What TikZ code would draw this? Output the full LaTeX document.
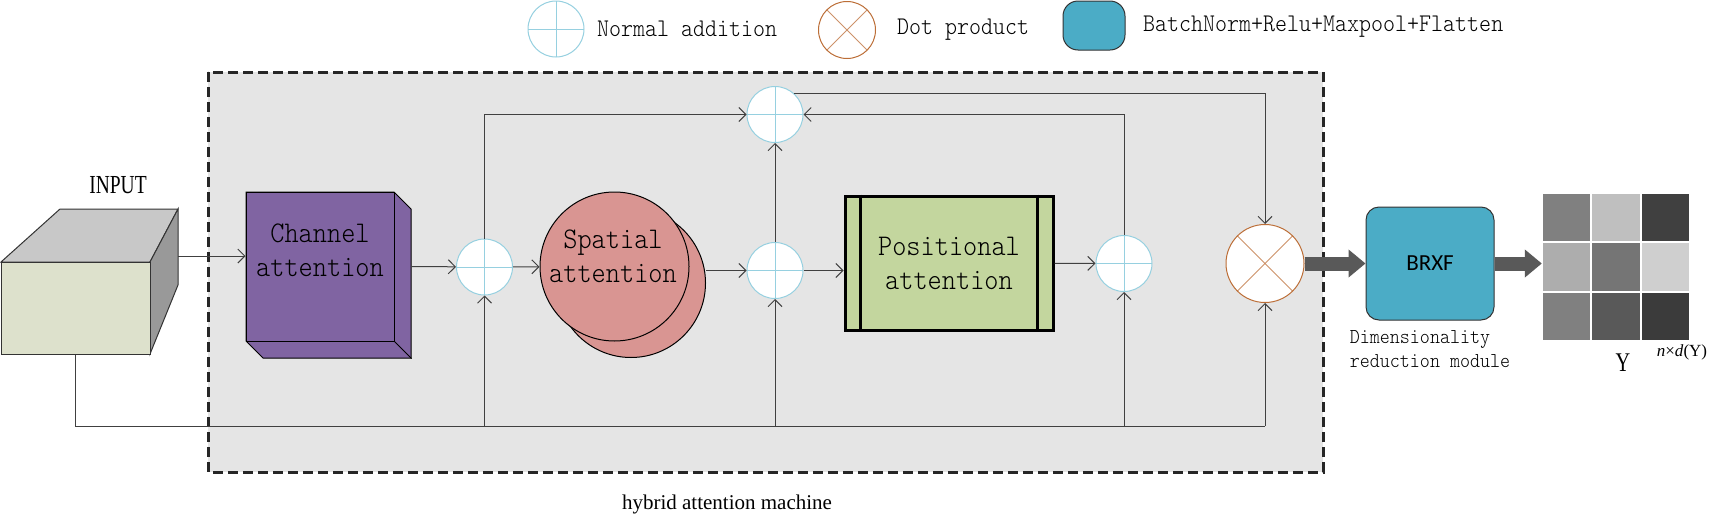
\documentclass[tikz,border=0pt]{standalone}
\usepackage{fontspec}
\usetikzlibrary{positioning,arrows.meta}
\newfontfamily\boxfont[Extension=.otf,FakeStretch=0.9]{lmmonolt10-regular}
\newfontfamily\narrowserif[FakeStretch=0.75]{Liberation Serif}
\newfontfamily\plainserif{Liberation Serif}
\newfontfamily\brxffont{Carlito}
\definecolor{addblue}{RGB}{150,208,224}
\definecolor{dotbrown}{RGB}{188,110,55}
\definecolor{chanpurple}{RGB}{128,100,162}
\definecolor{spared}{RGB}{217,149,146}
\definecolor{posgreen}{RGB}{195,214,158}
\definecolor{brxfteal}{RGB}{75,172,198}
\definecolor{panelgray}{RGB}{229,229,229}
\definecolor{inpfront}{RGB}{221,225,204}
\definecolor{inptop}{RGB}{200,200,200}
\definecolor{inpside}{RGB}{153,153,153}
\definecolor{fatgray}{RGB}{89,89,89}

\begin{document}
\begin{tikzpicture}[x=1pt,y=-1pt,
  line/.style={draw=black!75,line width=1pt},
  conn/.style={line,-{Straight Barb[length=7pt,width=14pt]}},
  fat/.style={draw=fatgray,line width=14pt,-{Triangle[length=17pt,width=27pt]}},
  addnode/.style={circle,draw=addblue,line width=1pt,fill=white,minimum size=56pt,inner sep=0pt,
    path picture={\draw[addblue,line width=1pt] (path picture bounding box.north)--(path picture bounding box.south)
      (path picture bounding box.west)--(path picture bounding box.east);}},
  dotnode/.style={circle,draw=dotbrown,line width=1pt,fill=white,minimum size=78pt,inner sep=0pt,
    path picture={\draw[dotbrown!75,line width=1pt] (path picture bounding box.north west)--(path picture bounding box.south east)
      (path picture bounding box.south west)--(path picture bounding box.north east);}},
  spanode/.style={circle,draw=black,line width=1pt,fill=spared,minimum size=149pt,inner sep=0pt},
  blocktext/.style={font=\boxfont\fontsize{30}{34}\selectfont,align=center,text=black},
  legendtext/.style={font=\boxfont\fontsize{25.4}{30}\selectfont,anchor=west,inner sep=0pt}]
\useasboundingbox (0,0) rectangle (1717,525);

\draw[fill=panelgray,draw=black!85,line width=3pt,dash pattern=on 10pt off 5pt] (208,72) rectangle (1323,472);

\node[addnode] (legadd) at (556,29) {};
\node[legendtext] (legaddlab) at (597,29) {Normal addition};
\node[dotnode,minimum size=57pt] (legdot) at (847,30) {};
\node[legendtext] (legdotlab) at (897,30) {Dot product};
\node[draw=black!80,line width=1pt,fill=brxfteal,rounded corners=15pt,minimum width=62pt,minimum height=49pt,inner sep=0pt] (legbrxf) at (1094,25.5) {};
\node[legendtext] (legbrxflab) at (1143,27) {BatchNorm+Relu+Maxpool+Flatten};

\node[font=\narrowserif\fontsize{26}{30}\selectfont] (inplab) at (118,185) {INPUT};
\filldraw[fill=inptop,draw=black!80,line width=1pt] (1,262)--(60,209)--(178,209)--(150,262)--cycle;
\filldraw[fill=inpside,draw=black!80,line width=1pt] (150,262)--(178,209)--(178,285)--(150,354)--cycle;
\node[draw=black!80,line width=1pt,fill=inpfront,minimum width=149pt,minimum height=92pt,inner sep=0pt] (inp) at (75.5,308) {};

\filldraw[fill=chanpurple,draw=black,line width=1pt] (246,192)--(394,192)--(411,209)--(411,358)--(263,358)--(246,341)--cycle;
\node[draw=black,line width=1pt,fill=chanpurple,minimum width=148pt,minimum height=149pt,inner sep=0pt] (chan) at (320,266.5) {};
\draw[line width=1pt] (chan.south east) -- ++(17,17);
\node[blocktext] (chanlab) at (320,250) {Channel\\attention};

\node[spanode] (spaback) at (631,283) {};
\node[spanode] (spatial) at (614.5,266.5) {};
\node[blocktext] (spalab) at (613,256.5) {Spatial\\attention};

\node[draw=black,line width=3pt,fill=posgreen,minimum width=208pt,minimum height=134pt,inner sep=0pt,blocktext] (pos) at (949,263) {Positional\\attention};
\draw[line width=3pt] ([xshift=17pt]pos.north west) -- ([xshift=17pt]pos.south west)
  ([xshift=-17pt]pos.north east) -- ([xshift=-17pt]pos.south east);

\node[addnode] (add1) at (484.5,267) {};
\node[addnode] (add2) at (775,270.5) {};
\node[addnode] (addtop) at (775,114.5) {};
\node[addnode] (add3) at (1124,263.5) {};
\node[dotnode] (dot) at (1265,263.5) {};

\coordinate (inpout) at (178,256);
\coordinate (bus) at (0,426);
\draw[conn] (inpout) -- (inpout -| chan.west);
\draw[conn] ([xshift=17pt]chan.east) -- (add1);
\draw[conn] (add1) -- (spatial);
\draw[conn] (spaback.east |- add2) -- (add2);
\draw[conn] (add2) -- (add2 -| pos.west);
\draw[conn] (pos) -- (add3);
\draw[line] (inp.south) |- (bus -| dot);
\draw[conn] (bus -| dot) -- (dot);
\foreach \n in {add1,add2,add3}
  \draw[conn] (bus -| \n) -- (\n);
\draw[conn] (add1.north) |- (addtop);
\draw[conn] (add2) -- (addtop);
\draw[conn] (add3.north) |- (addtop);
\draw[conn] (addtop.47) -| (dot);

\node[draw=black!80,line width=1pt,fill=brxfteal,rounded corners=13pt,minimum width=128pt,minimum height=113pt,
  font=\brxffont\fontsize{23}{27}\selectfont] (brxf) at (1430,263.5) {BRXF};
\node[font=\boxfont\fontsize{21.2}{24}\selectfont,align=left,below=7pt of brxf] (dimlab) {Dimensionality\\reduction module};

\node[minimum size=148pt,inner sep=0pt] (ymat) at (1616,267) {};
\foreach \row [count=\r from 0] in {{50,75,25},{68,46,81},{50,35,23}}{
  \foreach \g [count=\c from 0] in \row {
    \fill[white!\g!black,draw=white,line width=2pt] ({1542+49.33*\c},{193+49.33*\r}) rectangle ++(49.33,49.33);
  }
}
\node[font=\narrowserif\fontsize{27}{30}\selectfont] (ylab) at (1623,363) {Y};
\node[font=\plainserif\fontsize{17}{20}\selectfont] (dimy) at (1682,352) {\textit{n}×\textit{d}(Y)};

\draw[fat] (dot) -- (brxf);
\draw[fat] (brxf.east) -- (brxf.east -| ymat.west);

\node[font=\plainserif\fontsize{21}{24}\selectfont] (caption) at (727,504) {hybrid attention machine};
\end{tikzpicture}
\end{document}
